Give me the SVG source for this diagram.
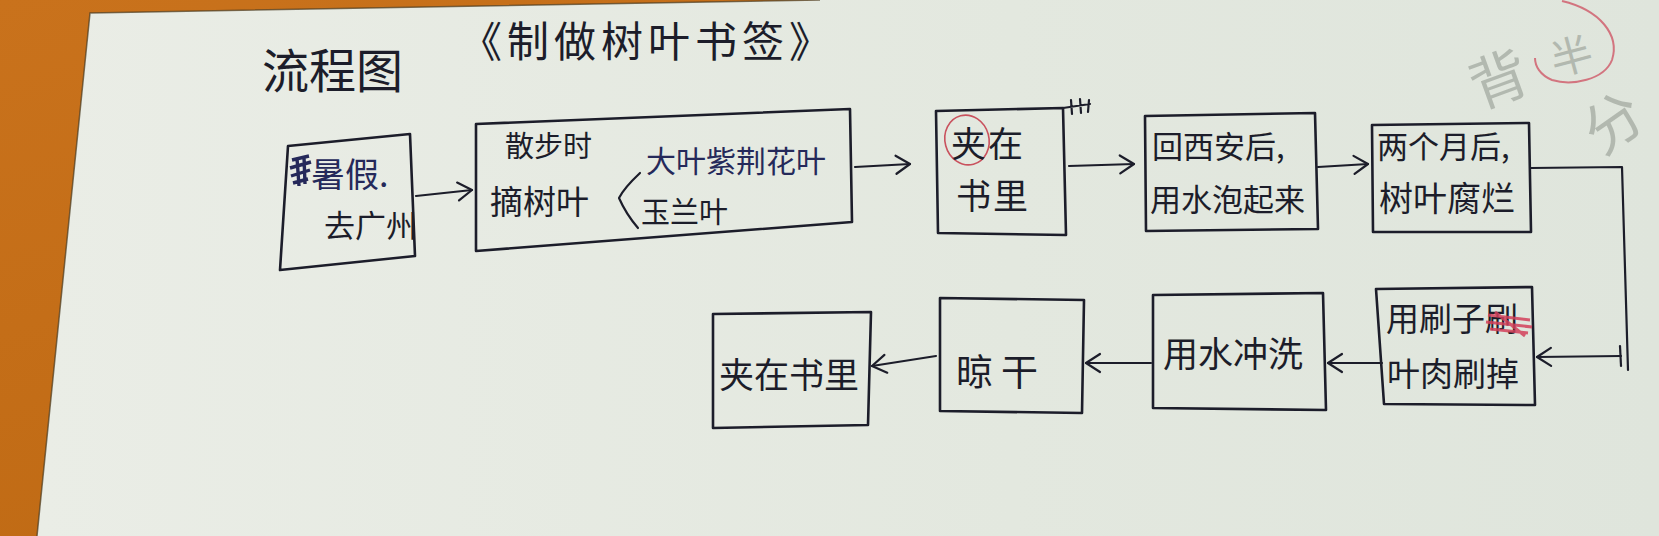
<svg xmlns="http://www.w3.org/2000/svg" width="1659" height="536" viewBox="0 0 1659 536">
<defs>
<linearGradient id="wood" x1="0" y1="0" x2="1" y2="1">
<stop offset="0" stop-color="#c9721c"/><stop offset="1" stop-color="#b9650f"/>
</linearGradient>
<linearGradient id="paper" x1="0" y1="0" x2="1" y2="0">
<stop offset="0" stop-color="#eaede6"/><stop offset="0.6" stop-color="#e3e8df"/><stop offset="1" stop-color="#dfe5dc"/>
</linearGradient>
<marker id="ah" markerUnits="userSpaceOnUse" markerWidth="30" markerHeight="30" refX="22" refY="12" orient="auto" viewBox="0 0 30 24">
<path d="M8 3 L22 12 L8 21" fill="none" stroke="#1c1d2a" stroke-width="2.2" stroke-linecap="round" stroke-linejoin="round"/>
</marker>
<style>
.box{fill:none;stroke:#1c1d2a;stroke-width:2.6;stroke-linejoin:round;stroke-linecap:round}
.ln{fill:none;stroke:#1c1d2a;stroke-width:2.2;stroke-linecap:round;stroke-linejoin:round}
.t{font-family:"Noto Sans CJK SC","Noto Sans CJK JP",sans-serif;fill:#1c1d2a;font-weight:400}
.faint{font-family:"Noto Sans CJK SC",sans-serif;fill:#8e958c;opacity:0.55}
</style>
</defs>
<rect x="0" y="0" width="1659" height="536" fill="url(#wood)"/>
<polygon points="90,13 820,0 1659,0 1659,536 37,536" fill="url(#paper)"/>
<polyline points="37,536 90,13 820,0" fill="none" stroke="#4a3a20" stroke-width="1.5" opacity="0.7"/>

<g id="title">
<text class="t" x="262" y="88" font-size="47">流程图</text>
<text class="t" x="460" y="57" font-size="42" letter-spacing="5">《制做树叶书签》</text>
</g>

<g id="faint-marks">
<text class="faint" x="1470" y="100" font-size="58" transform="rotate(-20 1500 80)">背</text>
<text class="faint" x="1550" y="72" font-size="42" transform="rotate(-15 1570 55)">半</text>
<text class="faint" x="1582" y="145" font-size="58" transform="rotate(-35 1610 120)">分</text>
<path d="M1562,1 C1600,10 1620,35 1612,60 C1604,80 1572,86 1552,80 C1540,75 1535,66 1535,58" fill="none" stroke="#d0606e" stroke-width="2" opacity="0.85"/>
</g>

<g id="n1">
<polygon class="box" points="288,146 410,134 415,256 280,270"/>
<path d="M292,160 L309,156 M290,168 L311,162 M291,176 L310,170 M293,183 L308,179 M297,158 L299,186 M304,157 L305,184" stroke="#25295a" stroke-width="3.4" fill="none"/>
<text class="t" x="311" y="187" font-size="34" style="fill:#25295a">暑假.</text>
<text class="t" x="324" y="237" font-size="31">去广州</text>
</g>

<g id="n2">
<polygon class="box" points="476,124 850,109 852,222 476,251"/>
<text class="t" x="505" y="157" font-size="29">散步时</text>
<text class="t" x="490" y="214" font-size="33">摘树叶</text>
<path class="ln" d="M640,173 Q624,188 619,198 Q626,214 638,228"/>
<text class="t" x="646" y="172" font-size="30" style="fill:#25295a">大叶紫荆花叶</text>
<text class="t" x="641" y="223" font-size="29">玉兰叶</text>
</g>

<g id="n3">
<polygon class="box" points="936,111 1063,108 1066,235 938,233"/>
<path class="ln" d="M1063,108 L1090,104 M1071,100 L1072,114 M1080,99 L1081,113 M1089,100 L1088,112"/>
<ellipse cx="967" cy="140" rx="22" ry="25" fill="none" stroke="#c9525e" stroke-width="1.6" transform="rotate(-15 967 140)"/>
<text class="t" x="951" y="157" font-size="35" letter-spacing="2">夹在</text>
<text class="t" x="956" y="209" font-size="35" letter-spacing="2">书里</text>
</g>

<g id="n4">
<polygon class="box" points="1145,116 1315,113 1318,229 1146,231"/>
<text class="t" x="1152" y="158" font-size="31">回西安后,</text>
<text class="t" x="1150" y="211" font-size="31">用水泡起来</text>
</g>

<g id="n5">
<polygon class="box" points="1372,125 1529,123 1531,232 1373,232"/>
<text class="t" x="1377" y="158" font-size="31">两个月后,</text>
<text class="t" x="1379" y="211" font-size="34">树叶腐烂</text>
</g>

<g id="n6">
<polygon class="box" points="1376,289 1532,287 1535,405 1384,404"/>
<text class="t" x="1386" y="331" font-size="33">用刷子刷</text>
<path d="M1488,315 L1530,320 M1486,322 L1532,327 M1490,329 L1528,333 M1495,312 L1525,336" stroke="#d2405a" stroke-width="3" fill="none" opacity="0.85"/>
<text class="t" x="1387" y="386" font-size="33">叶肉刷掉</text>
</g>

<g id="n7">
<polygon class="box" points="1153,295 1323,293 1326,410 1153,408"/>
<text class="t" x="1163" y="367" font-size="35">用水冲洗</text>
</g>

<g id="n8">
<polygon class="box" points="940,298 1084,300 1082,413 940,411"/>
<text class="t" x="956" y="386" font-size="37" letter-spacing="8">晾干</text>
</g>

<g id="n9">
<polygon class="box" points="713,314 871,312 868,425 713,428"/>
<text class="t" x="719" y="388" font-size="35">夹在书里</text>
</g>

<g id="connectors">
<path class="ln" d="M416,196 L472,190" marker-end="url(#ah)"/>
<path class="ln" d="M855,167 L910,164" marker-end="url(#ah)"/>
<path class="ln" d="M1069,166 L1134,164" marker-end="url(#ah)"/>
<path class="ln" d="M1318,167 L1368,164" marker-end="url(#ah)"/>
<path class="ln" d="M1531,168 L1622,167 L1628,370"/>
<path class="ln" d="M1620,346 L1621,366"/>
<path class="ln" d="M1621,356 L1537,357" marker-end="url(#ah)"/>
<path class="ln" d="M1382,363 L1328,363" marker-end="url(#ah)"/>
<path class="ln" d="M1151,363 L1086,363" marker-end="url(#ah)"/>
<path class="ln" d="M936,356 L872,366" marker-end="url(#ah)"/>
</g>
</svg>
